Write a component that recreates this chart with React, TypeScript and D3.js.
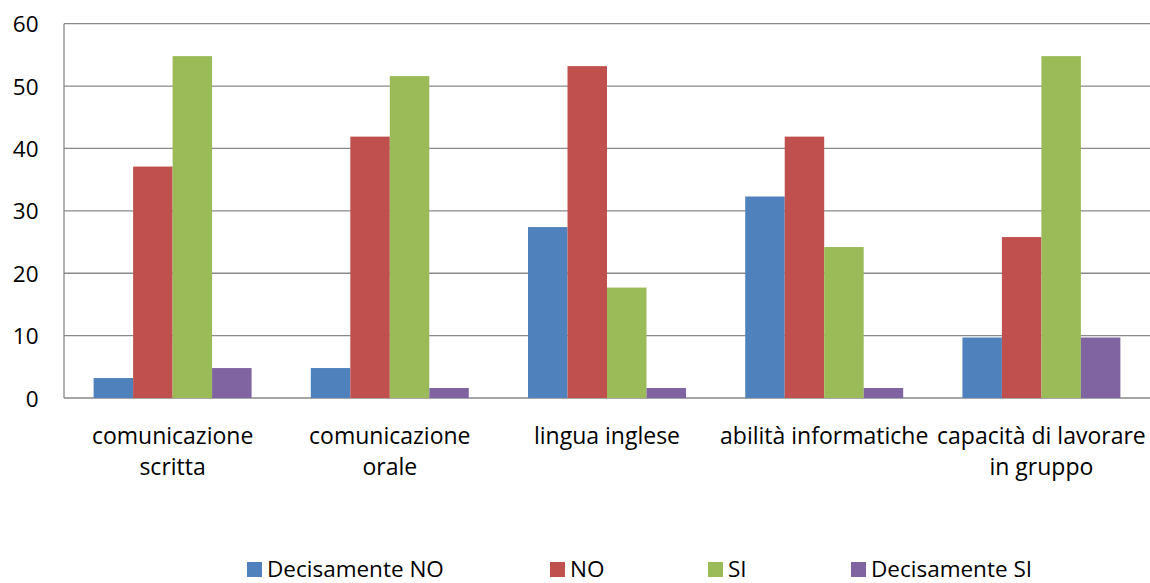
import React from "react";
import * as d3 from "d3";

const categories = [
  "comunicazione scritta",
  "comunicazione orale",
  "lingua inglese",
  "abilità informatiche",
  "capacità di lavorare in gruppo",
];
const categoryLabelLines = [
  ["comunicazione", "scritta"],
  ["comunicazione", "orale"],
  ["lingua inglese"],
  ["abilità informatiche"],
  ["capacità di lavorare", "in gruppo"],
];
const seriesNames = ["Decisamente NO", "NO", "SI", "Decisamente SI"];
const decisamenteNo = [3.2, 4.8, 27.4, 32.3, 9.7];
const no = [37.1, 41.9, 53.2, 41.9, 25.8];
const si = [54.8, 51.6, 17.7, 24.2, 54.8];
const decisamenteSi = [4.8, 1.6, 1.6, 1.6, 9.7];
const yTicks = [0, 10, 20, 30, 40, 50, 60];

const seriesValues = [decisamenteNo, no, si, decisamenteSi];
const colors = ["#4F81BD", "#C0504D", "#9BBB59", "#8064A2"];

const W = 1150;
const H = 583;
const left = 64;
const right = 1150;
const top = 23.7;
const bottom = 398;
const FONT = "'Open Sans', sans-serif";
const legendX = [247, 550, 708, 851];

export default function App() {
  const x0 = d3.scaleBand<string>().domain(categories).range([left, right]).padding(0);
  const x1 = d3
    .scaleBand<string>()
    .domain(seriesNames)
    .range([0, x0.bandwidth()])
    .paddingInner(0)
    .paddingOuter(0.75);
  const y = d3.scaleLinear().domain([0, 60]).range([bottom, top]);

  return (
    <svg
      width={W}
      height={H}
      style={{ position: "absolute", left: 0, top: 0, background: "#fff" }}
      fontFamily={FONT}
    >
      <rect x={0} y={0} width={W} height={H} fill="#fff" />
      {yTicks.map((t) => (
        <line
          key={"g" + t}
          x1={left}
          x2={right}
          y1={y(t)}
          y2={y(t)}
          stroke="#898989"
          strokeWidth={1.3}
        />
      ))}
      <line x1={left} x2={left} y1={top} y2={bottom} stroke="#898989" strokeWidth={1.3} />
      {yTicks.map((t) => (
        <text key={"t" + t} x={38.5} y={y(t) + 8.5} textAnchor="end" fontSize={22.5} fill="#000">
          {t}
        </text>
      ))}
      {categories.map((c, ci) => (
        <g key={c} transform={`translate(${x0(c)},0)`}>
          {seriesNames.map((s, si2) => {
            const v = seriesValues[si2][ci];
            return (
              <rect
                key={s}
                x={x1(s)}
                y={y(v)}
                width={x1.bandwidth()}
                height={y(0) - y(v)}
                fill={colors[si2]}
              />
            );
          })}
        </g>
      ))}
      {categories.map((c, ci) => (
        <text
          key={"l" + c}
          x={(x0(c) as number) + x0.bandwidth() / 2}
          y={444}
          textAnchor="middle"
          fontSize={23}
          fill="#000"
        >
          {categoryLabelLines[ci].map((ln, li) => (
            <tspan key={li} x={(x0(c) as number) + x0.bandwidth() / 2} dy={li === 0 ? 0 : 31}>
              {ln}
            </tspan>
          ))}
        </text>
      ))}
      {seriesNames.map((s, i) => (
        <g key={"lg" + s}>
          <rect x={legendX[i]} y={562} width={15} height={15} fill={colors[i]} />
          <text x={legendX[i] + 20} y={576.5} fontSize={22.5} fill="#000">
            {s}
          </text>
        </g>
      ))}
    </svg>
  );
}
